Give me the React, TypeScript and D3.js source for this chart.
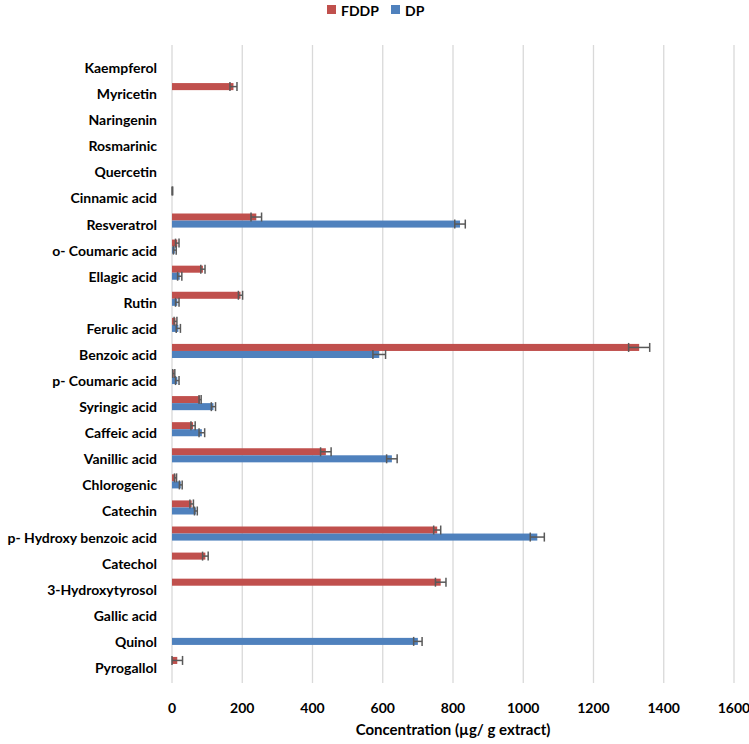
import React from "react";
import * as d3 from "d3";

const categories = [
  "Kaempferol", "Myricetin", "Naringenin", "Rosmarinic", "Quercetin", "Cinnamic acid",
  "Resveratrol", "o- Coumaric acid", "Ellagic acid", "Rutin", "Ferulic acid", "Benzoic acid",
  "p- Coumaric acid", "Syringic acid", "Caffeic acid", "Vanillic acid", "Chlorogenic", "Catechin",
  "p- Hydroxy benzoic acid", "Catechol", "3-Hydroxytyrosol", "Gallic acid", "Quinol", "Pyrogallol",
];

const series = ["FDDP", "DP"];

const fddp = [0, 175, 0, 0, 0, 0, 240, 15, 88, 195, 10, 1330, 5, 80, 60, 438, 10, 56, 755, 95, 765, 0, 0, 15];
const fddpErr = [0, 10, 0, 0, 0, 2, 15, 5, 6, 6, 4, 30, 3, 3, 6, 15, 3, 5, 10, 8, 15, 0, 0, 15];
const dp = [0, 0, 0, 0, 0, 0, 820, 8, 22, 15, 18, 590, 15, 118, 85, 626, 25, 68, 1040, 0, 0, 0, 700, 0];
const dpErr = [0, 0, 0, 0, 0, 0, 15, 4, 6, 5, 6, 18, 5, 6, 8, 15, 4, 4, 20, 0, 0, 0, 12, 0];

const xTicks = [0, 200, 400, 600, 800, 1000, 1200, 1400, 1600];

const colors = { FDDP: "#C0504D", DP: "#4F81BD" };

export default function App() {
  const width = 749;
  const height = 744;
  const left = 172;
  const right = 734;
  const top = 45;
  const bottom = 683;
  const font = "Lato, 'Open Sans', sans-serif";

  const x = d3.scaleLinear().domain([0, 1600]).range([left, right]);
  const y = d3.scaleBand().domain(categories).range([top, bottom]).padding(0.46);
  const ySub = d3.scaleBand().domain(series).range([0, y.bandwidth()]);

  const data = {
    FDDP: { vals: fddp, errs: fddpErr },
    DP: { vals: dp, errs: dpErr },
  };

  return (
    <svg width={width} height={height} style={{ position: "absolute", left: 0, top: 0 }}>
      <rect width={width} height={height} fill="#fff" />
      {/* gridlines */}
      {xTicks.map((t) => (
        <line key={t} x1={x(t)} x2={x(t)} y1={top} y2={bottom} stroke="#D9D9D9" strokeWidth={1.3} />
      ))}
      {/* bars */}
      {series.map((s) =>
        categories.map((c, i) => {
          const v = data[s].vals[i];
          if (!v) return null;
          return (
            <rect
              key={s + c}
              x={x(0)}
              y={(y(c) ?? 0) + (ySub(s) ?? 0)}
              width={x(v) - x(0)}
              height={ySub.bandwidth()}
              fill={colors[s]}
            />
          );
        })
      )}
      {/* error bars */}
      {series.map((s) =>
        categories.map((c, i) => {
          const v = data[s].vals[i];
          const e = data[s].errs[i];
          if (!e) return null;
          const cy = (y(c) ?? 0) + (ySub(s) ?? 0) + ySub.bandwidth() / 2;
          const x1 = x(Math.max(0, v - e));
          const x2 = x(v + e);
          return (
            <g key={"e" + s + c} stroke="#595959" strokeWidth={1.5}>
              <line x1={x1} x2={x2} y1={cy} y2={cy} />
              <line x1={x1} x2={x1} y1={cy - 4.5} y2={cy + 4.5} />
              <line x1={x2} x2={x2} y1={cy - 4.5} y2={cy + 4.5} />
            </g>
          );
        })
      )}
      {/* category labels */}
      {categories.map((c) => (
        <text
          key={"l" + c}
          x={157}
          y={(y(c) ?? 0) + y.bandwidth() / 2 + 3.5}
          textAnchor="end"
          dominantBaseline="central"
          fontFamily={font}
          fontWeight="bold"
          fontSize={14}
          fill="#000"
        >
          {c}
        </text>
      ))}
      {/* x tick labels */}
      {xTicks.map((t) => (
        <text
          key={"t" + t}
          x={x(t)}
          y={707}
          textAnchor="middle"
          dominantBaseline="central"
          fontFamily={font}
          fontWeight="bold"
          fontSize={14}
          fill="#000"
        >
          {t}
        </text>
      ))}
      <text
        x={(left + right) / 2}
        y={729}
        textAnchor="middle"
        dominantBaseline="central"
        fontFamily={font}
        fontWeight="bold"
        fontSize={15}
        fill="#000"
      >
        Concentration (µg/ g extract)
      </text>
      {/* legend */}
      {series.map((s, i) => (
        <g key={"lg" + s} transform={`translate(${327 + i * 64},5)`}>
          <rect width={9} height={9} fill={colors[s]} />
          <text x={14} y={5} dominantBaseline="central" fontFamily={font} fontWeight="bold" fontSize={14} fill="#000">
            {s}
          </text>
        </g>
      ))}
    </svg>
  );
}
